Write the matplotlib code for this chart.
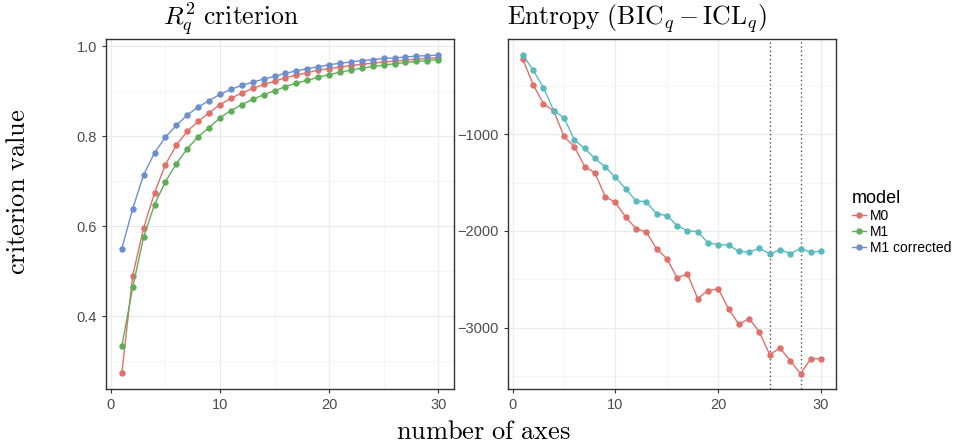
import numpy as np
import matplotlib
matplotlib.use("Agg")
import matplotlib.pyplot as plt

plt.rcParams['mathtext.fontset'] = 'cm'
plt.rcParams['font.family'] = ['Liberation Sans', 'DejaVu Sans']

n_axes = list(range(1, 31))

# R^2 criterion (left panel)
r2_m0 = [0.273, 0.490, 0.596, 0.674, 0.737, 0.780, 0.811, 0.833, 0.852, 0.870,
         0.884, 0.896, 0.906, 0.915, 0.922, 0.930, 0.936, 0.941, 0.947, 0.950,
         0.954, 0.957, 0.960, 0.962, 0.965, 0.967, 0.969, 0.971, 0.973, 0.974]
r2_m1 = [0.333, 0.464, 0.576, 0.648, 0.699, 0.739, 0.772, 0.799, 0.819, 0.841,
         0.857, 0.870, 0.882, 0.892, 0.901, 0.910, 0.918, 0.924, 0.931, 0.937,
         0.942, 0.947, 0.951, 0.955, 0.958, 0.961, 0.964, 0.966, 0.968, 0.970]
r2_m1c = [0.550, 0.639, 0.714, 0.763, 0.798, 0.824, 0.847, 0.865, 0.879, 0.893,
          0.904, 0.913, 0.920, 0.927, 0.933, 0.940, 0.945, 0.950, 0.954, 0.959,
          0.962, 0.965, 0.968, 0.970, 0.973, 0.974, 0.976, 0.978, 0.979, 0.980]

# Entropy (BIC - ICL) (right panel)
ent_m0 = [-229, -491, -687, -762, -1025, -1131, -1335, -1400, -1645, -1706,
          -1858, -1975, -2012, -2185, -2285, -2484, -2443, -2698, -2615, -2598,
          -2805, -2963, -2905, -3042, -3277, -3208, -3339, -3473, -3318, -3318]
ent_m1 = [-188, -339, -522, -759, -832, -1059, -1149, -1252, -1338, -1448,
          -1565, -1689, -1699, -1823, -1841, -1944, -1999, -2006, -2123, -2140,
          -2147, -2209, -2219, -2178, -2237, -2195, -2233, -2182, -2219, -2209]
vlines = [25, 28]

models = ['M0', 'M1', 'M1 corrected']
colors3 = ['#DF706A', '#5FAE57', '#6E8FCF']
colors2 = ['#DF706A', '#5ABAC0']

W, H = 955, 446
fig = plt.figure(figsize=(W / 100, H / 100), dpi=100)


def box(l, t, r, b):
    return [l / W, 1 - b / H, (r - l) / W, (b - t) / H]


ax1 = fig.add_axes(box(106, 39, 454, 389))
ax2 = fig.add_axes(box(508, 39, 836, 389))


def style(ax):
    ax.set_facecolor('white')
    ax.grid(True, which='major', color='#EBEBEB', lw=0.9, zorder=0)
    ax.grid(True, which='minor', color='#F2F2F2', lw=0.5, zorder=0)
    for s in ax.spines.values():
        s.set_color('#333333')
        s.set_linewidth(1.0)
    ax.tick_params(which='major', length=3, color='#333333', labelcolor='#4D4D4D', labelsize=10.5)
    ax.tick_params(which='minor', length=0)
    ax.set_axisbelow(True)


kw = dict(marker='o', ms=3.6, lw=1.0, zorder=3)

for ys, c, lab in zip([r2_m0, r2_m1, r2_m1c], colors3, models):
    ax1.plot(n_axes, ys, color=c, label=lab, **kw)
ax1.set_xlim(-0.45, 31.45)
ax1.set_ylim(0.238, 1.016)
ax1.set_xticks([0, 10, 20, 30])
ax1.set_xticks([5, 15, 25], minor=True)
ax1.set_yticks([0.4, 0.6, 0.8, 1.0])
ax1.set_yticklabels(['0.4', '0.6', '0.8', '1.0'])
ax1.set_yticks([0.3, 0.5, 0.7, 0.9], minor=True)
style(ax1)

for ys, c in zip([ent_m0, ent_m1], colors2):
    ax2.plot(n_axes, ys, color=c, **kw)
for v in vlines:
    ax2.axvline(v, color='#555555', ls=(0, (1, 2)), lw=1.0, zorder=2)
ax2.set_xlim(-0.45, 31.45)
ax2.set_ylim(-3631, -19)
ax2.set_xticks([0, 10, 20, 30])
ax2.set_xticks([5, 15, 25], minor=True)
ax2.set_yticks([-3000, -2000, -1000])
ax2.set_yticklabels(['\u22123000', '\u22122000', '\u22121000'])
ax2.set_yticks([-3500, -2500, -1500, -500], minor=True)
style(ax2)

# titles, left aligned as in the original layout
fig.text(163 / W, 1 - 25 / H, r'$R_q^2\ \mathrm{criterion}$', fontsize=18.5,
         ha='left', va='baseline')
fig.text(507 / W, 1 - 25 / H, r'$\mathrm{Entropy}\ (\mathrm{BIC}_q - \mathrm{ICL}_q)$',
         fontsize=18.5, ha='left', va='baseline')

fig.text(18 / W, 1 - 192 / H, r'$\mathrm{criterion\ value}$', rotation=90, fontsize=19,
         ha='center', va='center')
fig.text(483 / W, 1 - 432 / H, r'$\mathrm{number\ of\ axes}$', fontsize=19,
         ha='center', va='center')

handles, labels = ax1.get_legend_handles_labels()
leg = fig.legend(handles, labels, title='model', loc='upper left',
                 bbox_to_anchor=(842 / W, 1 - 180 / H), frameon=False,
                 fontsize=10, title_fontsize=13, handlelength=1.0,
                 handletextpad=0.3, labelspacing=0.15, borderpad=0.2)
leg._legend_box.align = 'left'

fig.savefig('out.png', dpi=100)
